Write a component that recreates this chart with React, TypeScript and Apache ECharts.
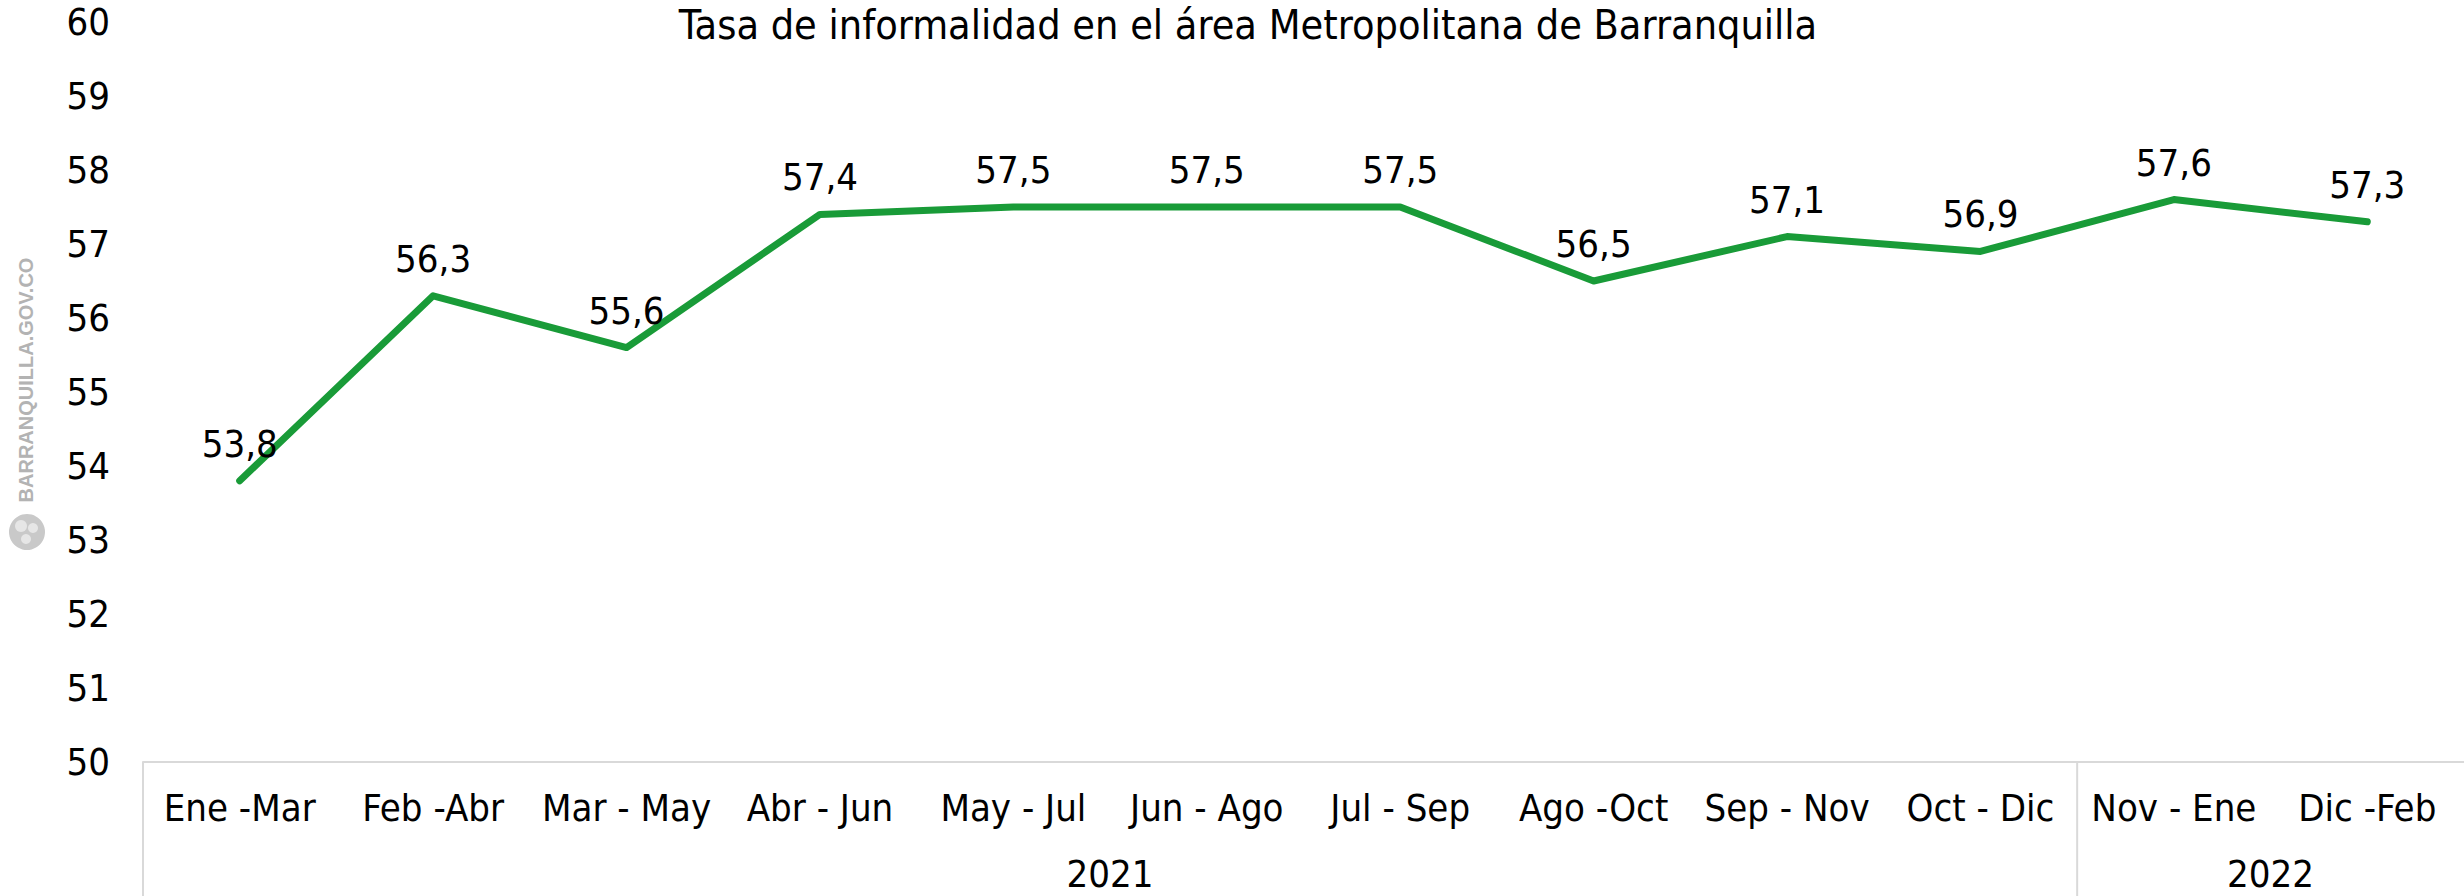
import React, { useEffect, useRef } from "react";
import * as echarts from "echarts";

const chartTitle = "Tasa de informalidad en el área Metropolitana de Barranquilla";
const categories = [
  "Ene -Mar", "Feb -Abr", "Mar - May", "Abr - Jun", "May - Jul", "Jun - Ago",
  "Jul - Sep", "Ago -Oct", "Sep - Nov", "Oct - Dic", "Nov - Ene", "Dic -Feb",
];
const values = [53.8, 56.3, 55.6, 57.4, 57.5, 57.5, 57.5, 56.5, 57.1, 56.9, 57.6, 57.3];
const yearLabels = ["2021", "2022"];
const yearStart = [0, 10];
const yearEnd = [9, 11];
const yMin = 50;
const yMax = 60;
const yStep = 1;
const watermark = "BARRANQUILLA.GOV.CO";

const FONT = "'Liberation Sans Narrow', 'DejaVu Sans Condensed', sans-serif";
const GREEN = "#199b38";
const BOX = "#d9d9d9";

export default function App() {
  const ref = useRef<HTMLDivElement>(null);
  useEffect(() => {
    if (!ref.current) return;
    const chart = echarts.init(ref.current, undefined, { renderer: "svg" });
    chart.setOption({
      animation: false,
      backgroundColor: "#ffffff",
      grid: { left: 143, right: -1, top: 22, bottom: 134, containLabel: false },
      xAxis: {
        type: "category",
        data: categories,
        boundaryGap: true,
        axisLine: { show: true, lineStyle: { color: BOX, width: 2 } },
        axisTick: { show: false },
        splitLine: { show: false },
        axisLabel: {
          interval: 0,
          margin: 26,
          color: "#000",
          fontSize: 38,
          lineHeight: 39,
          fontFamily: FONT,
        },
      },
      yAxis: {
        type: "value",
        min: yMin,
        max: yMax,
        interval: yStep,
        axisLine: { show: false },
        axisTick: { show: false },
        splitLine: { show: false },
        axisLabel: {
          margin: 33,
          color: "#000",
          fontSize: 38,
          fontFamily: FONT,
        },
      },
      series: [
        {
          type: "line",
          data: values,
          symbol: "circle",
          symbolSize: 1,
          itemStyle: { color: GREEN },
          lineStyle: { color: GREEN, width: 7, cap: "round", join: "round" },
          label: {
            show: true,
            position: "top",
            distance: 17,
            color: "#000",
            fontSize: 38,
            lineHeight: 39,
            fontFamily: FONT,
            formatter: (p: any) => Number(p.value).toFixed(1).replace(".", ","),
          },
        },
      ],
    });

    const px = (i: number) => chart.convertToPixel({ xAxisIndex: 0 }, i) as number;
    const y0 = chart.convertToPixel({ yAxisIndex: 0 }, yMin) as number;
    const band = px(1) - px(0);
    const graphics: any[] = [
      {
        type: "text",
        x: 1248,
        y: 25,
        style: {
          text: chartTitle,
          fontSize: 41,
          lineHeight: 41,
          fontFamily: FONT,
          fill: "#000",
          align: "center",
          verticalAlign: "middle",
        },
      },
      {
        type: "text",
        x: 26,
        y: 380,
        rotation: Math.PI / 2,
        style: {
          text: watermark,
          fontSize: 20,
          fontWeight: "bold",
          fontFamily: "'Liberation Sans', sans-serif",
          fill: "#b3b3b3",
          align: "center",
          verticalAlign: "middle",
        },
      },
      { type: "circle", shape: { cx: 27, cy: 532, r: 18 }, style: { fill: "#c9c9c9" } },
      { type: "circle", shape: { cx: 21, cy: 526, r: 6 }, style: { fill: "#e6e6e6" } },
      { type: "circle", shape: { cx: 33, cy: 528, r: 5 }, style: { fill: "#e6e6e6" } },
      { type: "circle", shape: { cx: 26, cy: 539, r: 5 }, style: { fill: "#e6e6e6" } },
    ];
    yearLabels.forEach((lab, k) => {
      const xs = px(yearStart[k]) - band / 2;
      const center = (px(yearStart[k]) + px(yearEnd[k])) / 2;
      graphics.push({
        type: "line",
        shape: { x1: xs, y1: y0, x2: xs, y2: 896 },
        style: { stroke: BOX, lineWidth: 2 },
      });
      graphics.push({
        type: "text",
        x: center,
        y: y0 + 112,
        style: {
          text: lab,
          fontSize: 38,
          lineHeight: 38,
          fontFamily: FONT,
          fill: "#000",
          align: "center",
          verticalAlign: "middle",
        },
      });
    });
    chart.setOption({ graphic: graphics });
    return () => chart.dispose();
  }, []);
  return (
    <div
      ref={ref}
      style={{ position: "fixed", left: 0, top: 0, width: 2464, height: 896, background: "#fff" }}
    />
  );
}
